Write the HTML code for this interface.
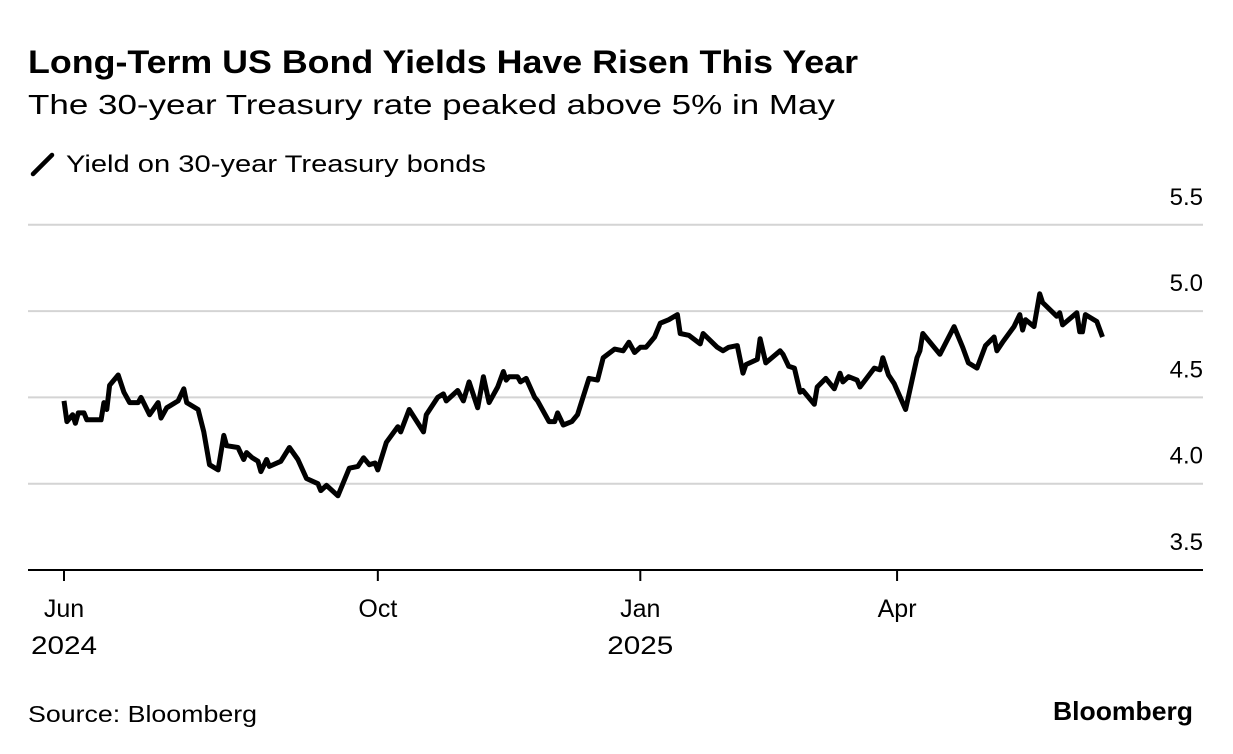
<!DOCTYPE html>
<html><head><meta charset="utf-8">
<style>
body{margin:0;background:#fff;width:1233px;height:754px;overflow:hidden;font-family:"Liberation Sans",Arial,sans-serif;color:#000}
svg{position:absolute;left:0;top:0}
</style></head>
<body>
<svg width="1233" height="754">
<text x="28" y="73" font-size="32" font-weight="bold" textLength="830" lengthAdjust="spacingAndGlyphs">Long-Term US Bond Yields Have Risen This Year</text>
<text x="28" y="114" font-size="28" textLength="807" lengthAdjust="spacingAndGlyphs">The 30-year Treasury rate peaked above 5% in May</text>
<line x1="33" y1="174" x2="52" y2="155" stroke="#000" stroke-width="4.5" stroke-linecap="round"/>
<text x="66" y="172" font-size="24" textLength="420" lengthAdjust="spacingAndGlyphs">Yield on 30-year Treasury bonds</text>
<g id="grid"></g>
<g id="xaxis"></g>
<path id="line" fill="none" stroke="#000" stroke-width="5" stroke-linejoin="round"/>
<text x="28" y="722" font-size="23" textLength="229" lengthAdjust="spacingAndGlyphs">Source: Bloomberg</text>
<text x="1053" y="720" font-size="26" font-weight="bold" textLength="140" lengthAdjust="spacingAndGlyphs">Bloomberg</text>
</svg>
<script>
const days=[0,1,3,4,5,7,8,13,14,15,16,19,21,23,26,27,30,33,34,36,40,42,43,47,49,51,54,56,57,61,63,64,66,68,69,71,72,76,79,82,85,89,90,92,96,100,103,105,107,109,110,113,117,118,121,126,127,131,133,134,138,140,142,145,147,149,152,154,155,156,159,160,162,165,166,170,172,173,175,178,180,184,187,189,193,196,198,200,202,204,205,207,209,212,215,216,219,223,224,229,231,233,236,238,239,243,244,246,251,252,254,256,258,259,263,264,267,270,272,273,275,278,279,284,286,287,289,291,295,299,300,301,307,312,315,317,320,323,326,327,329,333,335,336,337,340,342,343,348,349,350,355,356,357,358,362,364];
const yields=[4.48,4.36,4.40,4.35,4.41,4.41,4.37,4.37,4.47,4.43,4.57,4.63,4.53,4.47,4.47,4.50,4.40,4.47,4.38,4.44,4.48,4.55,4.47,4.43,4.30,4.11,4.08,4.28,4.22,4.21,4.14,4.18,4.15,4.13,4.07,4.14,4.10,4.13,4.21,4.14,4.03,4.00,3.96,3.99,3.93,4.09,4.10,4.15,4.11,4.12,4.08,4.24,4.33,4.30,4.43,4.30,4.40,4.50,4.52,4.48,4.54,4.48,4.59,4.44,4.62,4.47,4.56,4.65,4.60,4.62,4.62,4.59,4.61,4.50,4.48,4.36,4.36,4.41,4.34,4.36,4.40,4.61,4.60,4.73,4.78,4.77,4.82,4.76,4.79,4.79,4.81,4.85,4.93,4.95,4.98,4.87,4.86,4.81,4.87,4.79,4.77,4.79,4.80,4.64,4.69,4.72,4.84,4.70,4.77,4.75,4.68,4.67,4.53,4.54,4.46,4.56,4.61,4.55,4.64,4.59,4.62,4.60,4.56,4.67,4.66,4.73,4.63,4.58,4.43,4.73,4.77,4.87,4.75,4.91,4.79,4.70,4.67,4.80,4.85,4.77,4.82,4.91,4.98,4.89,4.95,4.91,5.10,5.05,4.97,4.99,4.92,4.99,4.88,4.88,4.98,4.94,4.85];
const yTicks=[3.5,4.0,4.5,5.0,5.5];
const xTickDays=[0,110,202,292];
const xTickLabels=[["Jun","2024"],["Oct",""],["Jan","2025"],["Apr",""]];
const X=d=>64+d*2.853, Y=v=>570-(v-3.5)*172.6;
const NS="http://www.w3.org/2000/svg";
const grid=document.getElementById('grid'), xa=document.getElementById('xaxis');
yTicks.forEach(v=>{
  if(v>3.5){const l=document.createElementNS(NS,'line');
  l.setAttribute('x1',28);l.setAttribute('x2',1203);l.setAttribute('y1',Y(v));l.setAttribute('y2',Y(v));
  l.setAttribute('stroke','#d4d4d4');l.setAttribute('stroke-width','2');
  
  
  grid.appendChild(l);}
  const t=document.createElementNS(NS,'text');
  t.setAttribute('x',1203);t.setAttribute('y',Y(v)-20);t.setAttribute('text-anchor','end');t.setAttribute('font-size','24');
  t.textContent=v.toFixed(1);
  
  
  grid.appendChild(t);
});
const base=document.createElementNS(NS,'line');
base.setAttribute('x1',28);base.setAttribute('x2',1203);base.setAttribute('y1',570);base.setAttribute('y2',570);
base.setAttribute('stroke','#000');base.setAttribute('stroke-width','2');


xa.appendChild(base);
xTickDays.forEach((d,i)=>{
  const l=document.createElementNS(NS,'line');
  l.setAttribute('x1',X(d));l.setAttribute('x2',X(d));l.setAttribute('y1',570);l.setAttribute('y2',581);
  l.setAttribute('stroke','#000');l.setAttribute('stroke-width','2');
  
  
  xa.appendChild(l);
  xTickLabels[i].forEach((s,j)=>{ if(!s)return;
    const t=document.createElementNS(NS,'text');
    t.setAttribute('x',X(d));t.setAttribute('y',617+j*37);t.setAttribute('text-anchor','middle');t.setAttribute('font-size','25');
    if(j===1){t.setAttribute('textLength','66');t.setAttribute('lengthAdjust','spacingAndGlyphs');}
    t.textContent=s;
    
    
    xa.appendChild(t);
  });
});
document.getElementById('line').setAttribute('d',days.map((d,i)=>(i?'L':'M')+X(d).toFixed(1)+','+Y(yields[i]).toFixed(1)).join(''));
</script>
</body></html>
